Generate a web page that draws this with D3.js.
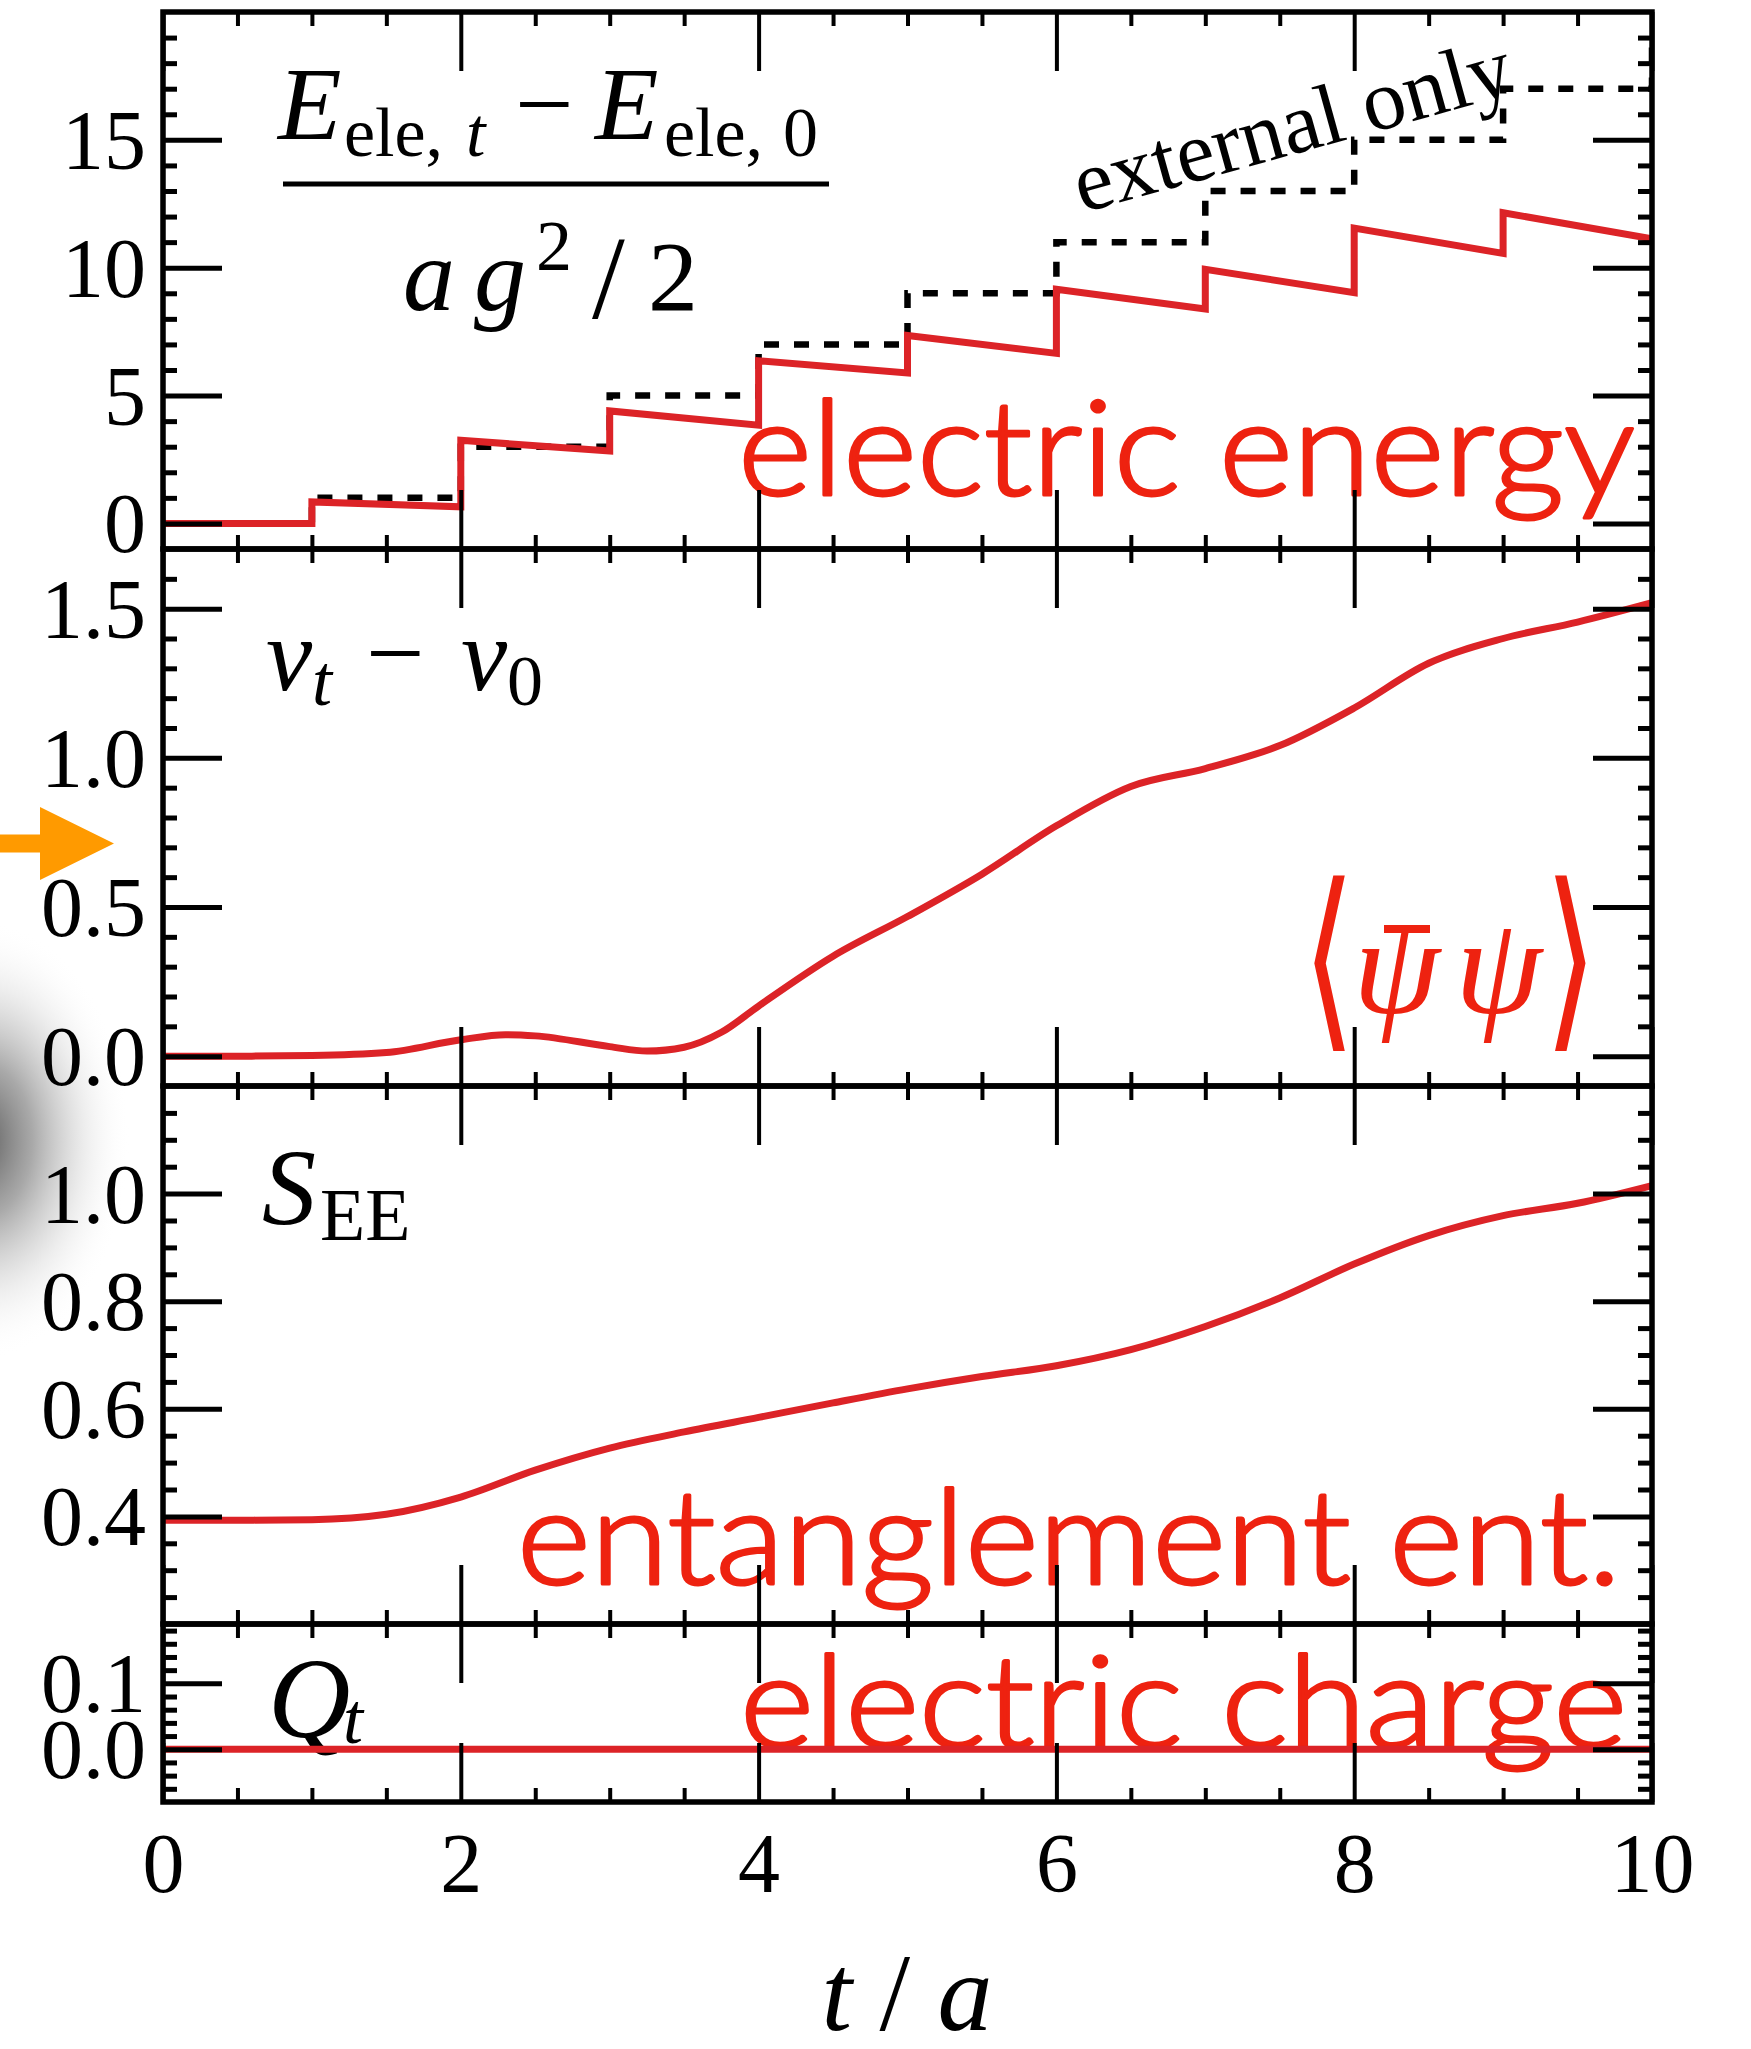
<!DOCTYPE html>
<html>
<head>
<meta charset="utf-8">
<script src="https://cdn.jsdelivr.net/npm/d3@7"></script>
<style>
  html, body { margin: 0; padding: 0; background: #fff; }
  svg { display: block; }
</style>
</head>
<body>
<svg id="chart" width="1751" height="2049"></svg>
<script>
// ---- data ---------------------------------------------------------------
// electric energy: value just after each kick at integer t, and just before the next kick
const kickTimes     = [0, 1, 2, 3, 4, 5, 6, 7, 8, 9];
const energyAfter   = [0, 0.84, 3.25, 4.40, 6.36, 7.35, 9.16, 9.94, 11.55, 12.15];
const energyBefore  = [0, 0.65, 2.83, 3.84, 5.88, 6.65, 8.39, 9.02, 10.56, 11.13];
// energy injected by the external field alone (step levels from t = 0 .. 10)
const externalTimes = [0, 1, 2, 3, 4, 5, 6, 7, 8, 9, 10];
const externalLevel = [0, 1, 3, 5, 7, 9, 11, 13, 15, 17, 19];

// chiral condensate  nu_t - nu_0
const nuTime  = [0, 0.5, 1, 1.5, 2, 2.3, 2.5, 3, 3.25, 3.5, 3.75, 4, 4.5, 5, 5.5, 6, 6.5, 7, 7.5, 8, 8.5, 9, 9.5, 10];
const nuValue = [0, 0, 0.002, 0.012, 0.055, 0.072, 0.068, 0.032, 0.017, 0.030, 0.080, 0.168, 0.335, 0.468, 0.610, 0.772, 0.904, 0.964, 1.041, 1.167, 1.317, 1.400, 1.455, 1.520];

// entanglement entropy
const seeTime  = [0, 0.5, 1, 1.5, 2, 2.5, 3, 3.5, 4, 4.5, 5, 5.5, 6, 6.5, 7, 7.5, 8, 8.5, 9, 9.5, 10];
const seeValue = [0.393, 0.393, 0.394, 0.404, 0.436, 0.486, 0.527, 0.557, 0.584, 0.611, 0.637, 0.660, 0.680, 0.710, 0.753, 0.806, 0.869, 0.922, 0.959, 0.982, 1.015];

// electric charge
const chargeTime  = [0, 10];
const chargeValue = [0, 0];

// axes
const timeTicks   = [0, 2, 4, 6, 8, 10];
const energyTicks = [0, 5, 10, 15];
const nuTicks     = [0, 0.5, 1.0, 1.5];
const seeTicks    = [0.4, 0.6, 0.8, 1.0];
const chargeTicks = [0, 0.1];

// ---- layout -------------------------------------------------------------
const svg = d3.select("#chart");
const X0 = 163, X1 = 1652;
const MAJOR = 59, MINOR = 14;
const RED_LINE = "#dc2327", RED_TEXT = "#ee2210";
const SERIF = "'Liberation Serif', 'Times New Roman', serif";
const SANS = "Lato, 'Open Sans', sans-serif";

const x = d3.scaleLinear().domain([0, 10]).range([X0, X1]);

const panels = [
  { top: 12,   bottom: 549,  domain: [-1, 20],      ticks: energyTicks, minor: 1,    fmt: d3.format("d") },
  { top: 549,  bottom: 1086, domain: [-0.1, 1.7],   ticks: nuTicks,     minor: 0.1,  fmt: d3.format(".1f") },
  { top: 1086, bottom: 1624, domain: [0.2, 1.2],    ticks: seeTicks,    minor: 0.05, fmt: d3.format(".1f") },
  { top: 1624, bottom: 1802, domain: [-0.08, 0.19], ticks: chargeTicks, minor: 0.02, fmt: d3.format(".1f") }
];
panels.forEach(p => { p.y = d3.scaleLinear().domain(p.domain).range([p.bottom, p.top]); });

function minorValues(domain, step, majors) {
  const out = [];
  const n0 = Math.ceil(domain[0] / step - 1e-6), n1 = Math.floor(domain[1] / step + 1e-6);
  for (let i = n0; i <= n1; i++) {
    const v = +(i * step).toFixed(6);
    if (Math.abs(v - domain[0]) < 1e-6 || Math.abs(v - domain[1]) < 1e-6) continue;
    if (majors.some(m => Math.abs(m - v) < 1e-6)) continue;
    out.push(v);
  }
  return out;
}
const timeMinor = minorValues([0, 10], 0.5, timeTicks);

// ---- background haze and arrow at the left edge --------------------------
const defs = svg.append("defs");
const grad = defs.append("radialGradient").attr("id", "haze");
grad.append("stop").attr("offset", "0%").attr("stop-color", "#5c5c5c").attr("stop-opacity", 1);
grad.append("stop").attr("offset", "35%").attr("stop-color", "#9a9a9a").attr("stop-opacity", 0.85);
grad.append("stop").attr("offset", "70%").attr("stop-color", "#dcdcdc").attr("stop-opacity", 0.5);
grad.append("stop").attr("offset", "100%").attr("stop-color", "#ffffff").attr("stop-opacity", 0);
svg.append("ellipse").attr("cx", -20).attr("cy", 1140).attr("rx", 150).attr("ry", 220)
  .attr("fill", "url(#haze)");

svg.append("polygon")
  .attr("points", "0,834.6 40,834.6 40,807 114,843.6 40,880 40,852.5 0,852.5")
  .attr("fill", "#ff9a00");

// clip regions per panel
panels.forEach((p, i) => {
  defs.append("clipPath").attr("id", "clip" + i)
    .append("rect").attr("x", X0).attr("y", p.top).attr("width", X1 - X0).attr("height", p.bottom - p.top);
});

// ---- panel annotations (drawn under the data) ------------------------------
function put(g, s) {
  const t = g.append("text")
    .attr("font-family", s.family || SERIF)
    .attr("font-size", s.size)
    .attr("font-style", s.italic ? "italic" : "normal")
    .attr("font-weight", s.weight || "normal")
    .attr("fill", s.color || "#000")
    .text(s.t);
  if (s.outline) t.attr("stroke", s.color).attr("stroke-width", s.outline).attr("stroke-linejoin", "round");
  if (s.len) t.attr("textLength", s.len).attr("lengthAdjust", "spacingAndGlyphs");
  if (s.rotate) t.attr("x", s.x).attr("y", s.y).attr("transform", `rotate(${s.rotate},${s.x},${s.y})`);
  else if (s.sx) t.attr("text-anchor", "middle").attr("transform", `translate(${s.x},${s.y}) scale(${s.sx},1)`);
  else t.attr("x", s.x).attr("y", s.y);
  return t;
}
const notes = svg.append("g");

// energy ratio label
[
  { t: "E",    x: 278, y: 139, size: 104, italic: true },
  { t: "ele,", x: 344, y: 156, size: 70 },
  { t: "t",    x: 466, y: 156, size: 70, italic: true },
  { t: "\u2212", x: 515, y: 139, size: 104 },
  { t: "E",    x: 595, y: 139, size: 104, italic: true },
  { t: "ele,", x: 664, y: 156, size: 70 },
  { t: "0",    x: 783, y: 156, size: 70 },
  { t: "a",    x: 403, y: 310, size: 104, italic: true },
  { t: "g",    x: 474, y: 310, size: 104, italic: true },
  { t: "2",    x: 536, y: 270, size: 72 },
  { t: "/",    x: 592, y: 318, size: 118 },
  { t: "2",    x: 648, y: 310, size: 100 }
].forEach(s => put(notes, s));
notes.append("line").attr("x1", 283).attr("x2", 829).attr("y1", 184).attr("y2", 184)
  .attr("stroke", "#000").attr("stroke-width", 5);

put(notes, { t: "external only", x: 1082, y: 213, size: 86, rotate: -15.5 });
put(notes, { t: "electric energy", x: 738, y: 495, size: 132, weight: 300, outline: 3, family: SANS, color: RED_TEXT, len: 897 });

// condensate label
[
  { t: "\u03bd", x: 266, y: 690, size: 104, italic: true },
  { t: "t",      x: 312, y: 705, size: 72, italic: true },
  { t: "\u2212", x: 366, y: 688, size: 104 },
  { t: "\u03bd", x: 461, y: 690, size: 104, italic: true },
  { t: "0",      x: 507, y: 705, size: 72 }
].forEach(s => put(notes, s));
put(notes, { t: "\u27e8", x: 1329, y: 1025, size: 197, sx: 0.7, weight: 200, family: "'DejaVu Sans', sans-serif", color: RED_TEXT });
put(notes, { t: "\u03c8", x: 1353, y: 1013, size: 140, italic: true, color: RED_TEXT });
put(notes, { t: "\u03c8", x: 1455, y: 1013, size: 140, italic: true, color: RED_TEXT });
put(notes, { t: "\u27e9", x: 1571, y: 1025, size: 197, sx: 0.7, weight: 200, family: "'DejaVu Sans', sans-serif", color: RED_TEXT });
notes.append("line").attr("x1", 1384).attr("x2", 1430).attr("y1", 929).attr("y2", 929)
  .attr("stroke", RED_TEXT).attr("stroke-width", 8);

// entropy label
put(notes, { t: "S",  x: 262, y: 1224, size: 108, italic: true });
put(notes, { t: "EE", x: 320, y: 1240, size: 74 });
put(notes, { t: "entanglement ent.", x: 517, y: 1584, size: 132, weight: 300, outline: 3, family: SANS, color: RED_TEXT, len: 1104 });

// charge label
put(notes, { t: "Q", x: 268, y: 1737, size: 114, italic: true });
put(notes, { t: "t", x: 343, y: 1743, size: 72, italic: true });
put(notes, { t: "electric charge", x: 740, y: 1747, size: 128, weight: 300, outline: 3, family: SANS, color: RED_TEXT, len: 887 });

// ---- data lines ---------------------------------------------------------
const p1 = panels[0], p2 = panels[1], p3 = panels[2], p4 = panels[3];

// external-only staircase (dashed)
const extPts = externalTimes.map((t, i) => [t, externalLevel[i]]);
svg.append("path").attr("clip-path", "url(#clip0)")
  .attr("d", d3.line().x(d => x(d[0])).y(d => p1.y(d[1])).curve(d3.curveStepAfter)(extPts))
  .attr("fill", "none").attr("stroke", "#000").attr("stroke-width", 6.5)
  .attr("stroke-dasharray", "15,15");

// electric energy sawtooth
const energyPts = [];
kickTimes.forEach((t, i) => { energyPts.push([t, energyAfter[i]]); energyPts.push([t + 1, energyBefore[i]]); });
svg.append("path").attr("clip-path", "url(#clip0)")
  .attr("d", d3.line().x(d => x(d[0])).y(d => p1.y(d[1]))(energyPts))
  .attr("fill", "none").attr("stroke", RED_LINE).attr("stroke-width", 7).attr("stroke-linejoin", "miter");

function smooth(panel, idx, ts, vs) {
  svg.append("path").attr("clip-path", `url(#clip${idx})`)
    .attr("d", d3.line().x(d => x(d[0])).y(d => panel.y(d[1])).curve(d3.curveMonotoneX)(ts.map((t, i) => [t, vs[i]])))
    .attr("fill", "none").attr("stroke", RED_LINE).attr("stroke-width", 7);
}
smooth(p2, 1, nuTime, nuValue);
smooth(p3, 2, seeTime, seeValue);
smooth(p4, 3, chargeTime, chargeValue);

// ---- frames and ticks ---------------------------------------------------
panels.forEach((p, i) => {
  const g = svg.append("g");
  const minor = minorValues(p.domain, p.minor, p.ticks);
  const isLast = i === panels.length - 1;

  const yAxes = g.append("g").attr("class", "yticks");
  yAxes.append("g").attr("transform", `translate(${X0},0)`)
    .call(d3.axisLeft(p.y).tickValues(p.ticks).tickSize(-MAJOR).tickSizeOuter(0).tickPadding(17).tickFormat(p.fmt));
  yAxes.append("g").attr("transform", `translate(${X0},0)`)
    .call(d3.axisLeft(p.y).tickValues(minor).tickSize(-MINOR).tickSizeOuter(0).tickFormat(""));
  yAxes.append("g").attr("transform", `translate(${X1},0)`)
    .call(d3.axisRight(p.y).tickValues(p.ticks).tickSize(-MAJOR).tickSizeOuter(0).tickFormat(""));
  yAxes.append("g").attr("transform", `translate(${X1},0)`)
    .call(d3.axisRight(p.y).tickValues(minor).tickSize(-MINOR).tickSizeOuter(0).tickFormat(""));

  const xAxes = g.append("g").attr("class", "xticks");
  xAxes.append("g").attr("transform", `translate(0,${p.top})`)
    .call(d3.axisTop(x).tickValues(timeTicks).tickSize(-MAJOR).tickSizeOuter(0).tickFormat(""));
  xAxes.append("g").attr("transform", `translate(0,${p.top})`)
    .call(d3.axisTop(x).tickValues(timeMinor).tickSize(-MINOR).tickSizeOuter(0).tickFormat(""));
  xAxes.append("g").attr("transform", `translate(0,${p.bottom})`)
    .call(d3.axisBottom(x).tickValues(timeTicks).tickSize(-MAJOR).tickSizeOuter(0).tickPadding(30)
      .tickFormat(isLast ? d3.format("d") : ""));
  xAxes.append("g").attr("transform", `translate(0,${p.bottom})`)
    .call(d3.axisBottom(x).tickValues(timeMinor).tickSize(-MINOR).tickSizeOuter(0).tickFormat(""));

  g.selectAll(".domain").remove();
  g.selectAll(".tick line").attr("stroke", "#000");
  yAxes.selectAll(".tick line").attr("stroke-width", 5);
  xAxes.selectAll(".tick line").attr("stroke-width", 4);
  g.selectAll(".tick text").attr("font-family", SERIF).attr("font-size", 84).attr("fill", "#000");
  yAxes.selectAll(".tick text").attr("dy", "0.34em");

  g.append("rect").attr("x", X0).attr("y", p.top).attr("width", X1 - X0).attr("height", p.bottom - p.top)
    .attr("fill", "none").attr("stroke", "#000").attr("stroke-width", 5.5);
});

// x-axis title
const title = svg.append("text").attr("x", 907).attr("y", 2030).attr("text-anchor", "middle")
  .attr("font-family", SERIF).attr("font-size", 110);
title.append("tspan").attr("font-style", "italic").text("t");
title.append("tspan").text(" / ");
title.append("tspan").attr("font-style", "italic").text("a");
</script>
</body>
</html>
